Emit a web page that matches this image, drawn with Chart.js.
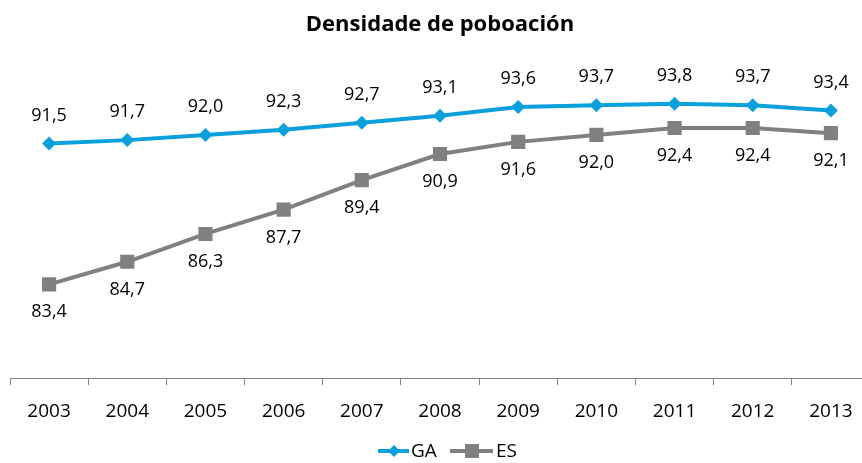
<!DOCTYPE html>
<html>
<head>
<meta charset="utf-8">
<script src="https://cdn.jsdelivr.net/npm/chart.js@4/dist/chart.umd.min.js"></script>
<style>
  html, body { margin: 0; padding: 0; background: #fff; overflow: hidden; }
  #marco { width: 862px; height: 463px; overflow: hidden; position: relative; }
  #wrap { width: 880px; height: 463px; position: absolute; left: 0; top: 0; }
</style>
</head>
<body>
<div id="marco"><div id="wrap"><canvas id="grafico"></canvas></div></div>
<script>
// datos
const anos = ['2003', '2004', '2005', '2006', '2007', '2008', '2009', '2010', '2011', '2012', '2013'];
const valoresGA = [91.5, 91.7, 92.0, 92.3, 92.7, 93.1, 93.6, 93.7, 93.8, 93.7, 93.4];
const valoresES = [83.4, 84.7, 86.3, 87.7, 89.4, 90.9, 91.6, 92.0, 92.4, 92.4, 92.1];

const fonte = '"Open Sans", "Liberation Sans", sans-serif';
const azul = '#0AA0DC';
const gris = '#808080';

function formatar(v) {
    return v.toFixed(1).replace('.', ',');
}

// etiquetas de datos: GA enriba, ES embaixo
const etiquetas = {
    id: 'etiquetas',
    afterDatasetsDraw(chart) {
        let ctx = chart.ctx;
        ctx.save();
        ctx.font = '18px ' + fonte;
        ctx.fillStyle = '#000';
        ctx.textAlign = 'center';
        ctx.textBaseline = 'middle';
        chart.data.datasets.forEach((ds, i) => {
            let meta = chart.getDatasetMeta(i);
            meta.data.forEach((p, j) => {
                let dy = i === 0 ? -28 : 28;
                ctx.fillText(formatar(ds.data[j]), p.x, p.y + dy);
            });
        });
        ctx.restore();
    }
};

// lenda abaixo, liña con marcador
const lenda = {
    id: 'lenda',
    afterDraw(chart) {
        let ctx = chart.ctx;
        let y = 451;
        ctx.save();
        ctx.lineWidth = 4;
        // GA
        ctx.strokeStyle = azul;
        ctx.beginPath(); ctx.moveTo(378, y); ctx.lineTo(409, y); ctx.stroke();
        ctx.fillStyle = azul;
        ctx.beginPath();
        ctx.moveTo(394, y - 6); ctx.lineTo(400, y); ctx.lineTo(394, y + 6); ctx.lineTo(388, y);
        ctx.closePath(); ctx.fill();
        // ES
        ctx.strokeStyle = gris;
        ctx.beginPath(); ctx.moveTo(450, y); ctx.lineTo(493, y); ctx.stroke();
        ctx.fillStyle = gris;
        ctx.fillRect(465, y - 7, 14, 14);
        ctx.font = '19px ' + fonte;
        ctx.fillStyle = '#000';
        ctx.textBaseline = 'middle';
        ctx.fillText('GA', 411, y + 1);
        ctx.fillText('ES', 496, y + 1);
        ctx.restore();
    }
};

var grafico = document.getElementById('grafico').getContext('2d');

var meugrafico = new Chart(grafico, {
    type: 'line',
    data: {
        labels: anos,
        datasets: [{
            label: 'GA',
            data: valoresGA,
            borderColor: azul,
            backgroundColor: azul,
            borderWidth: 4,
            pointStyle: 'rectRot',
            pointRadius: 7,
            pointHoverRadius: 7,
            pointBorderWidth: 0,
            tension: 0
        }, {
            label: 'ES',
            data: valoresES,
            borderColor: gris,
            backgroundColor: gris,
            borderWidth: 4,
            pointStyle: 'rect',
            pointRadius: 10,
            pointHoverRadius: 10,
            pointBorderWidth: 0,
            tension: 0
        }]
    },
    options: {
        responsive: true,
        maintainAspectRatio: false,
        animation: false,
        layout: {
            padding: { left: 10, right: 10, top: 0, bottom: 25 }
        },
        scales: {
            x: {
                offset: true,
                grid: {
                    offset: true,
                    drawOnChartArea: false,
                    drawTicks: true,
                    tickLength: 7,
                    color: '#868686'
                },
                border: { color: '#868686', width: 1 },
                ticks: {
                    color: '#000',
                    font: { family: fonte, size: 19 },
                    padding: 15,
                    maxRotation: 0
                }
            },
            y: {
                display: false,
                min: 78,
                max: 96
            }
        },
        plugins: {
            legend: { display: false },
            tooltip: { enabled: false },
            title: {
                display: true,
                text: 'Densidade de poboación',
                color: '#000',
                font: { family: fonte, size: 22, weight: 'bold' },
                padding: { top: 12, bottom: 27 }
            }
        }
    },
    plugins: [etiquetas, lenda]
});
</script>
</body>
</html>
